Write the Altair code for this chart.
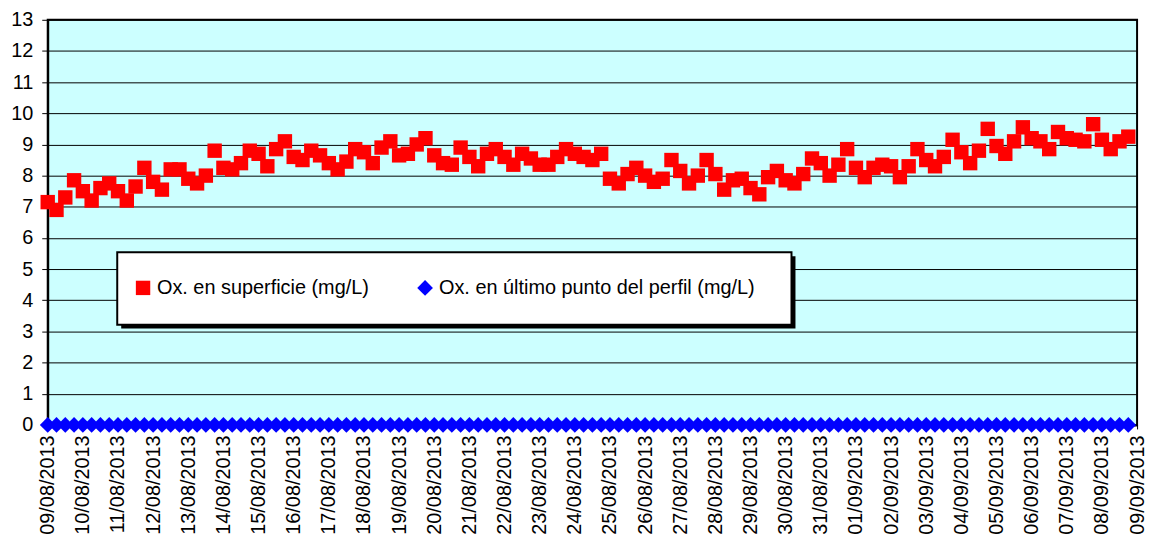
import altair as alt
import pandas as pd

# ---- data ----
date_labels = [
    "09/08/2013", "10/08/2013", "11/08/2013", "12/08/2013", "13/08/2013", "14/08/2013",
    "15/08/2013", "16/08/2013", "17/08/2013", "18/08/2013", "19/08/2013", "20/08/2013",
    "21/08/2013", "22/08/2013", "23/08/2013", "24/08/2013", "25/08/2013", "26/08/2013",
    "27/08/2013", "28/08/2013", "29/08/2013", "30/08/2013", "31/08/2013", "01/09/2013",
    "02/09/2013", "03/09/2013", "04/09/2013", "05/09/2013", "06/09/2013", "07/09/2013",
    "08/09/2013", "09/09/2013",
]

# oxygen at surface (mg/L), one reading every 6 hours
ox_superficie = [
    7.15, 6.9, 7.3, 7.85, 7.5, 7.2, 7.6, 7.75, 7.5, 7.2,
    7.65, 8.25, 7.8, 7.55, 8.2, 8.2, 7.9, 7.75, 8.0, 8.8,
    8.25, 8.2, 8.4, 8.8, 8.7, 8.3, 8.85, 9.1, 8.6, 8.5,
    8.8, 8.65, 8.4, 8.2, 8.45, 8.85, 8.75, 8.4, 8.9, 9.1,
    8.65, 8.7, 9.0, 9.2, 8.65, 8.4, 8.35, 8.9, 8.6, 8.3,
    8.7, 8.85, 8.6, 8.35, 8.7, 8.55, 8.35, 8.35, 8.6, 8.85,
    8.7, 8.6, 8.5, 8.7, 7.9, 7.75, 8.05, 8.25, 8.0, 7.8,
    7.9, 8.5, 8.15, 7.75, 8.0, 8.5, 8.05, 7.55, 7.85, 7.9,
    7.6, 7.4, 7.95, 8.15, 7.85, 7.75, 8.05, 8.55, 8.4, 8.0,
    8.35, 8.85, 8.25, 7.95, 8.25, 8.35, 8.3, 7.95, 8.3, 8.85,
    8.5, 8.3, 8.6, 9.15, 8.75, 8.4, 8.8, 9.5, 8.95, 8.7,
    9.1, 9.55, 9.2, 9.1, 8.85, 9.4, 9.2, 9.15, 9.1, 9.65,
    9.15, 8.85, 9.1, 9.25,
]

# oxygen at last profile point (mg/L)
ox_perfil = [0.0] * 124

series_names = ["Ox. en superficie (mg/L)", "Ox. en último punto del perfil (mg/L)"]
series_colors = ["#FF0000", "#0000FF"]
series_shapes = ["square", "diamond"]
readings_per_day = 4

# ---- build table ----
rows = []
for i, v in enumerate(ox_superficie):
    rows.append({"dia": i / readings_per_day, "valor": v, "serie": series_names[0]})
for i, v in enumerate(ox_perfil):
    rows.append({"dia": i / readings_per_day, "valor": v, "serie": series_names[1]})
df = pd.DataFrame(rows)

label_js = "[" + ",".join("'" + s + "'" for s in date_labels) + "][datum.value]"

FONT = "Liberation Sans"

points = alt.Chart(df).mark_point(filled=True, opacity=1, strokeWidth=0).encode(
    x=alt.X(
        "dia:Q",
        scale=alt.Scale(domain=[0, len(date_labels) - 1], nice=False, zero=False),
        axis=alt.Axis(
            values=list(range(len(date_labels))),
            labelExpr=label_js,
            labelAngle=270,
            labelAlign="right",
            labelBaseline="middle",
            labelOverlap=False,
            labelFontSize=20,
            labelPadding=6,
            tickSize=4,
            grid=False,
            title=None,
        ),
    ),
    y=alt.Y(
        "valor:Q",
        scale=alt.Scale(domain=[0, 13], nice=False),
        axis=alt.Axis(
            values=list(range(14)),
            labelFontSize=20,
            labelPadding=9,
            tickSize=6,
            grid=True,
            title=None,
        ),
    ),
    color=alt.Color(
        "serie:N",
        scale=alt.Scale(domain=series_names, range=series_colors),
        legend=alt.Legend(
            title=None,
            orient="none",
            direction="horizontal",
            legendX=86,
            legendY=260,
            padding=0,
            labelFontSize=20,
            labelOffset=4,
            columnPadding=46,
            symbolStrokeWidth=0,
            labelFont=FONT,
        ),
    ),
    shape=alt.Shape(
        "serie:N",
        scale=alt.Scale(domain=series_names, range=series_shapes),
        legend=alt.Legend(title=None, orient="none", direction="horizontal", legendX=86, legendY=260),
    ),
    size=alt.Size(
        "serie:N",
        scale=alt.Scale(domain=series_names, range=[210, 250]),
        legend=alt.Legend(title=None, orient="none", direction="horizontal", legendX=86, legendY=260),
    ),
)

one = pd.DataFrame({"k": [0]})
shadow = alt.Chart(one).mark_rect(color="#000000").encode(
    x=alt.value(74), x2=alt.value(753), y=alt.value(238), y2=alt.value(311)
)
box = alt.Chart(one).mark_rect(fill="#FFFFFF", stroke="#000000", strokeWidth=2).encode(
    x=alt.value(70), x2=alt.value(749), y=alt.value(234), y2=alt.value(307)
)

chart = (
    alt.layer(shadow, box, points)
    .properties(
        width=1097,
        height=408,
        autosize=alt.AutoSizeParams(type="none"),
        padding={"left": 40, "top": 10, "right": 10, "bottom": 114},
        background="#FFFFFF",
    )
    .configure_view(fill="#CCFFFF", stroke="#000000", strokeWidth=2)
    .configure_axis(
        labelFont=FONT,
        labelColor="#000000",
        domainColor="#000000",
        domainWidth=2,
        tickColor="#000000",
        tickWidth=1,
        gridColor="#000000",
        gridWidth=1,
        gridOpacity=1,
    )
    .configure_legend(labelFont=FONT, labelColor="#000000", labelLimit=0)
)

chart.save("out.html", embed_options={"renderer": "svg", "actions": False})
